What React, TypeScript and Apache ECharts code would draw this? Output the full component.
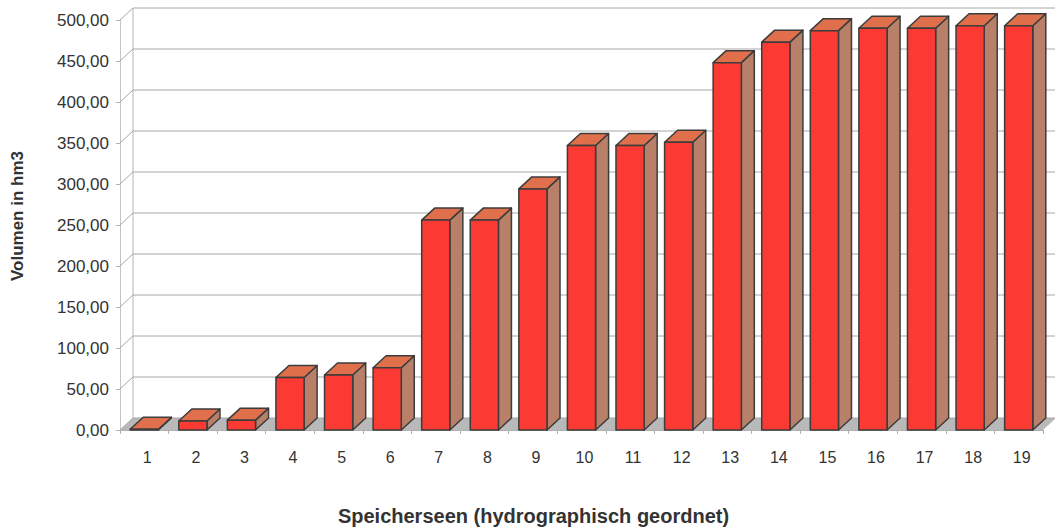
import React, { useEffect, useRef } from "react";
import * as echarts from "echarts";

// Storage lakes in hydrographic order and their volumes (hm³)
const categories = ["1", "2", "3", "4", "5", "6", "7", "8", "9", "10", "11", "12", "13", "14", "15", "16", "17", "18", "19"];
const volumes = [1, 11, 12, 64, 67, 76, 256, 256, 294, 347, 347, 351, 448, 473, 487, 490, 490, 493, 493];
const yTicks = [0, 50, 100, 150, 200, 250, 300, 350, 400, 450, 500];

// pseudo-3D depth offset of the walls and the columns
const DX = 13;
const DY = 12;

const FONT = "'Liberation Sans', Arial, Helvetica, sans-serif";
const FRONT = "#fb3a34";
const TOP = "#e0704c";
const SIDE = "#b88068";
const EDGE = "#3c3c3c";

export default function App() {
  const ref = useRef<HTMLDivElement>(null);

  useEffect(() => {
    if (!ref.current) return;
    const chart = echarts.init(ref.current, null, { renderer: "svg" });

    const option: any = {
      animation: false,
      backgroundColor: "#ffffff",
      grid: { left: 120, right: 12, top: 20, bottom: 100, outerBoundsMode: "none", containLabel: false },
      xAxis: {
        type: "category",
        data: categories,
        name: "Speicherseen (hydrographisch geordnet)",
        nameLocation: "middle",
        nameGap: 76,
        nameTextStyle: {
          fontFamily: FONT,
          fontSize: 20,
          fontWeight: "bold",
          color: "#333",
          padding: [0, 96, 0, 0],
        },
        axisLine: { show: true, lineStyle: { color: "#b0b0b0", width: 1 } },
        axisTick: { show: true, length: 4, lineStyle: { color: "#b0b0b0" } },
        axisLabel: { fontFamily: FONT, fontSize: 16, color: "#333", margin: 19, padding: [0, 0, 0, 6] },
        splitLine: { show: false },
      },
      yAxis: {
        type: "value",
        min: 0,
        max: 500,
        interval: 50,
        name: "Volumen in hm3",
        nameLocation: "middle",
        nameGap: 94,
        nameTextStyle: {
          fontFamily: FONT,
          fontSize: 17,
          fontWeight: "bold",
          color: "#333",
          padding: [0, 0, 0, 18],
        },
        axisLine: { show: true, lineStyle: { color: "#c4c4c4", width: 1 } },
        axisTick: { show: true, length: 4, lineStyle: { color: "#b0b0b0" } },
        axisLabel: {
          fontFamily: FONT,
          fontSize: 17,
          color: "#333",
          margin: 11,
          padding: [6, 0, 0, 0],
          formatter: (v: number) => v.toFixed(2).replace(".", ","),
        },
        splitLine: { show: false },
      },
      series: [
        {
          // floor and left back edge
          type: "custom",
          silent: true,
          z: 1,
          data: [[0, 0]],
          renderItem: (params: any, api: any) => {
            const cs = params.coordSys;
            const y0 = api.coord([0, 0])[1];
            const yTop = api.coord([0, 500])[1];
            const l = cs.x;
            const r = cs.x + cs.width;
            return {
              type: "group",
              children: [
                {
                  type: "polygon",
                  shape: { points: [[l, y0], [r, y0], [r + DX, y0 - DY], [l + DX, y0 - DY]] },
                  style: { fill: "#b9b9b9" },
                },
                {
                  type: "line",
                  shape: { x1: l + DX, y1: y0 - DY, x2: l + DX, y2: yTop - DY },
                  style: { stroke: "#b5b5b5", lineWidth: 1 },
                },
              ],
            };
          },
        },
        {
          // back-wall gridlines with their slanted side-wall part
          type: "custom",
          silent: true,
          z: 2,
          data: yTicks.map((v) => [0, v]),
          renderItem: (params: any, api: any) => {
            const cs = params.coordSys;
            const y = api.coord([0, api.value(1)])[1];
            const l = cs.x;
            const r = cs.x + cs.width;
            return {
              type: "polyline",
              shape: { points: [[l, y], [l + DX, y - DY], [r + DX, y - DY]] },
              style: { stroke: "#a8a8a8", lineWidth: 1, fill: "none" },
            };
          },
        },
        {
          // 3D columns
          type: "custom",
          z: 5,
          data: volumes.map((v, i) => [i, v]),
          encode: { x: 0, y: 1 },
          renderItem: (params: any, api: any) => {
            const i = api.value(0);
            const v = api.value(1);
            const top = api.coord([i, v]);
            const base = api.coord([i, 0]);
            const w = api.size([1, 0])[0] * 0.58;
            const xl = top[0] - w / 2;
            const xr = top[0] + w / 2;
            const yt = top[1];
            const yb = base[1];
            const st = { stroke: EDGE, lineWidth: 1.5, lineJoin: "round" };
            return {
              type: "group",
              children: [
                {
                  type: "polygon",
                  shape: { points: [[xr, yt], [xr + DX, yt - DY], [xr + DX, yb - DY], [xr, yb]] },
                  style: { fill: SIDE, ...st },
                },
                {
                  type: "polygon",
                  shape: { points: [[xl, yt], [xr, yt], [xr + DX, yt - DY], [xl + DX, yt - DY]] },
                  style: { fill: TOP, ...st },
                },
                {
                  type: "rect",
                  shape: { x: xl, y: yt, width: w, height: yb - yt },
                  style: { fill: FRONT, ...st },
                },
              ],
            };
          },
        },
      ],
    };

    chart.setOption(option);
    return () => chart.dispose();
  }, []);

  return (
    <div
      ref={ref}
      style={{ position: "fixed", left: 0, top: 0, width: 1055, height: 530, background: "#fff" }}
    />
  );
}
